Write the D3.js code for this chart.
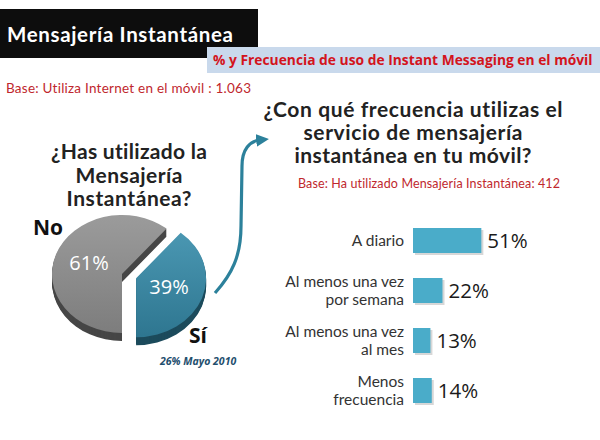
<!DOCTYPE html>
<html>
<head>
<meta charset="utf-8">
<script src="https://cdn.jsdelivr.net/npm/d3@7"></script>
<style>
  body { margin: 0; background: #fff; }
  text { font-family: Lato, "Open Sans", sans-serif; font-variant-ligatures: none; }
</style>
</head>
<body>
<div id="root"></div>
<script>
// pie: ¿Has utilizado la Mensajería Instantánea?
const pieLabels = ["No", "Sí"];
const pieValues = [61, 39];

// bars: frecuencia de uso
const freqCategories = [
    ["A diario"],
    ["Al menos una vez", "por semana"],
    ["Al menos una vez", "al mes"],
    ["Menos", "frecuencia"]
];
const freqValues = [51, 22, 13, 14];

const width = 600, height = 440;

const svg = d3.select("#root")
    .append("svg")
    .attr("width", width)
    .attr("height", height);

const defs = svg.append("defs");

function vGrad(id, top, bottom)
{
    const g = defs.append("linearGradient")
        .attr("id", id)
        .attr("x1", 0).attr("y1", 0)
        .attr("x2", 0).attr("y2", 1);
    g.append("stop").attr("offset", "0%").attr("stop-color", top);
    g.append("stop").attr("offset", "100%").attr("stop-color", bottom);
}
vGrad("gGray", "#9b9b9b", "#7d7d7d");
vGrad("gTeal", "#4a97b2", "#2e7690");

defs.append("marker")
    .attr("id", "arrowHead")
    .attr("viewBox", "0 0 10 10")
    .attr("refX", 3).attr("refY", 5)
    .attr("markerWidth", 4).attr("markerHeight", 4)
    .attr("orient", "auto")
    .append("path")
    .attr("d", "M0,0 L10,5 L0,10 Z")
    .attr("fill", "#2c819b");

svg.append("rect")
    .attr("width", width).attr("height", height)
    .attr("fill", "#fff");

// stretch a text to the width it has in the slide (fonts differ)
function fit(sel, w)
{
    sel.attr("textLength", w)
        .attr("lengthAdjust", "spacing");
    return sel;
}

// header
svg.append("rect")
    .attr("x", 0).attr("y", 9)
    .attr("width", 258).attr("height", 49)
    .attr("fill", "#0d0d0d");

fit(svg.append("text")
    .attr("x", 7).attr("y", 42)
    .attr("fill", "#fff")
    .style("font-size", "20.5px")
    .style("font-weight", "bold")
    .text("Mensajería Instantánea"), 226);

svg.append("rect")
    .attr("x", 207).attr("y", 47)
    .attr("width", 393).attr("height", 26)
    .attr("fill", "#c9d9ec");

// condensed subtitle: squeeze horizontally to the slide's width
const sub = svg.append("text")
    .attr("fill", "#d3141c")
    .style("font-family", "'Open Sans', sans-serif")
    .style("font-size", "15px")
    .style("font-weight", "bold")
    .text("% y Frecuencia de uso de Instant Messaging en el móvil");
const subW = sub.node().getComputedTextLength();
sub.attr("transform", `translate(213, 65) scale(${380 / subW}, 1)`);

fit(svg.append("text")
    .attr("x", 6).attr("y", 93)
    .attr("fill", "#c0272d")
    .style("font-size", "13.5px")
    .text("Base: Utiliza Internet en el móvil : 1.063"), 245);

// left question
const leftQ = ["¿Has utilizado la", "Mensajería", "Instantánea?"];
const leftW = [156, 107, 125];
svg.append("g").selectAll("text")
    .data(leftQ)
    .join("text")
    .attr("x", 129)
    .attr("y", (d, i) => 159 + i * 23.5)
    .attr("text-anchor", "middle")
    .attr("fill", "#222")
    .attr("textLength", (d, i) => leftW[i])
    .attr("lengthAdjust", "spacing")
    .style("font-size", "21px")
    .style("font-weight", "bold")
    .text(d => d);

// 3D pie
const cx = 122, cy = 274, rx = 70, ry = 59, depth = 8, explode = 15;
const squash = ry / rx;
const pie = d3.pie().sort(null).startAngle(Math.PI).endAngle(3 * Math.PI);
const arcs = pie(pieValues);
const arc = d3.arc().innerRadius(0).outerRadius(rx);
const pieFill = ["url(#gGray)", "url(#gTeal)"];
const pieSide = ["#464646", "#1c4b5c"];

arcs.forEach((a, i) => {
    const mid = (a.startAngle + a.endAngle) / 2;
    const off = i === 1 ? explode : 0;
    const sx = cx + off * Math.sin(mid);
    const sy = cy - off * Math.cos(mid) * squash;
    const g = svg.append("g");
    for(let k = depth; k >= 1; k--)
    {
        g.append("path")
            .attr("transform", `translate(${sx}, ${sy + k}) scale(1, ${squash})`)
            .attr("d", arc(a))
            .attr("fill", pieSide[i]);
    }
    g.append("path")
        .attr("transform", `translate(${sx}, ${sy}) scale(1, ${squash})`)
        .attr("d", arc(a))
        .attr("fill", pieFill[i]);

    const lr = 35;
    g.append("text")
        .attr("x", sx + lr * Math.sin(mid))
        .attr("y", sy - lr * Math.cos(mid) * squash + 6)
        .attr("text-anchor", "middle")
        .attr("fill", "#fff")
        .style("font-family", "'Open Sans', sans-serif")
        .style("font-size", "20px")
        .text(pieValues[i] + "%");
});

svg.append("text")
    .attr("x", cx - 89).attr("y", cy - 39)
    .attr("fill", "#111")
    .style("font-family", "'Open Sans', sans-serif")
    .style("font-size", "21px")
    .style("font-weight", "bold")
    .text(pieLabels[0]);

svg.append("text")
    .attr("x", cx + 67).attr("y", cy + 69)
    .attr("fill", "#111")
    .style("font-family", "'Open Sans', sans-serif")
    .style("font-size", "21px")
    .style("font-weight", "bold")
    .text(pieLabels[1]);

svg.append("text")
    .attr("x", 160).attr("y", 365)
    .attr("fill", "#1f4f6e")
    .style("font-family", "'Open Sans', sans-serif")
    .style("font-size", "10.5px")
    .style("font-weight", "bold")
    .style("font-style", "italic")
    .text("26% Mayo 2010");

// arrow
svg.append("path")
    .attr("d", "M215,293 C232,274 241,256 241,226 L242,166 C242,149 250,141 260,140")
    .attr("fill", "none")
    .attr("stroke", "#2c819b")
    .attr("stroke-width", 3.2)
    .attr("marker-end", "url(#arrowHead)");

// right question
const rightQ = ["¿Con qué frecuencia utilizas el", "servicio de mensajería", "instantánea en tu móvil?"];
const rightW = [299, 219, 237];
svg.append("g").selectAll("text")
    .data(rightQ)
    .join("text")
    .attr("x", 413)
    .attr("y", (d, i) => 117 + i * 23)
    .attr("text-anchor", "middle")
    .attr("fill", "#222")
    .attr("textLength", (d, i) => rightW[i])
    .attr("lengthAdjust", "spacing")
    .style("font-size", "21px")
    .style("font-weight", "bold")
    .text(d => d);

fit(svg.append("text")
    .attr("x", 298).attr("y", 188)
    .attr("fill", "#c0272d")
    .style("font-size", "12.5px")
    .text("Base: Ha utilizado Mensajería Instantánea: 412"), 262);

// bars
const keys = freqCategories.map(d => d.join(" "));
const y = d3.scaleBand()
    .domain(keys)
    .range([215.5, 415.5])
    .paddingInner(0.5)
    .paddingOuter(0.25);
const x = d3.scaleLinear()
    .domain([0, 100])
    .range([413, 547]);

const rows = svg.append("g").selectAll("g")
    .data(freqValues)
    .join("g");

rows.append("rect")
    .attr("x", x(0) + 2)
    .attr("y", (d, i) => y(keys[i]) + 2)
    .attr("width", d => x(d) - x(0))
    .attr("height", y.bandwidth())
    .attr("fill", "#bcbcbc")
    .attr("opacity", 0.6);

rows.append("rect")
    .attr("x", x(0))
    .attr("y", (d, i) => y(keys[i]))
    .attr("width", d => x(d) - x(0))
    .attr("height", y.bandwidth())
    .attr("fill", "#4aacc9");

rows.append("text")
    .attr("x", d => x(d) + 6)
    .attr("y", (d, i) => y(keys[i]) + y.bandwidth() / 2 + 7.5)
    .attr("fill", "#1a1a1a")
    .style("font-family", "'Open Sans', sans-serif")
    .style("font-size", "20.5px")
    .text(d => d + "%");

rows.each(function(d, i) {
    const lines = freqCategories[i];
    const c = y(keys[i]) + y.bandwidth() / 2;
    const top = lines.length === 1 ? c + 5 : c - 3.5;
    d3.select(this).selectAll("text.cat")
        .data(lines)
        .join("text")
        .attr("class", "cat")
        .attr("x", 404)
        .attr("y", (t, j) => top + j * 18)
        .attr("text-anchor", "end")
        .attr("fill", "#333")
        .style("font-size", "15.5px")
        .text(t => t);
});
</script>
</body>
</html>
